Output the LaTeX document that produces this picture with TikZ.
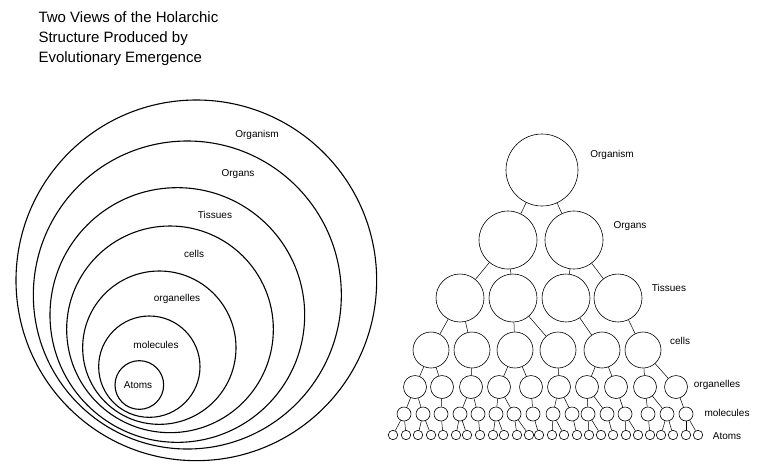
\documentclass[tikz,border=0pt]{standalone}
\usepackage{fontspec}
\setmainfont{Liberation Sans}
\begin{document}
\begin{tikzpicture}[x=1pt,y=-1pt,
  ring/.style={draw,line width=1.1pt},
  lbl/.style={font=\fontsize{10}{12}\selectfont},
  tn/.style={draw,circle,inner sep=0pt,line width=0.6pt},
  ln/.style={line width=0.5pt}]
\useasboundingbox (0,0) rectangle (765,469);
\node[anchor=north west,align=left,font=\fontsize{15}{20}\selectfont] (title) at (35,8) {Two Views of the Holarchic\\Structure Produced by\\Evolutionary Emergence};
% left nested circles
\foreach \n/\cx/\cy/\r in {c1/589/541/541, c2/562/585/462, c3/532/645/382, c4/510/688/310, c5/478/743/230, c6/448/800/152, c7/418/855/73}
  \draw[ring] (\cx/3,\cy/3+100) circle[radius=\r/3] coordinate (\n);
\node[lbl] (l1) at (257,135) {Organism};
\node[lbl] (l2) at (238,174) {Organs};
\node[lbl] (l3) at (215,215) {Tissues};
\node[lbl] (l4) at (194,254) {cells};
\node[lbl] (l5) at (177,299) {organelles};
\node[lbl] (l6) at (156,345) {molecules};
\node[lbl] (l7) at (138,385) {Atoms};
% tree
\node[tn,minimum size=72pt] (g) at (542,170) {};
\foreach \i/\x in {1/508,2/574} \node[tn,minimum size=58pt] (o\i) at (\x,240) {};
\foreach \i/\x in {1/460,2/513,3/566,4/618} \node[tn,minimum size=48pt] (t\i) at (\x,298) {};
\foreach \i/\x in {1/431,2/472,3/515,4/558,5/602,6/643} \node[tn,minimum size=36pt] (c\i) at (\x,350) {};
\foreach \i/\x in {1/415,2/442,3/471,4/499,5/531,6/559,7/587,8/616,9/645,10/676} \node[tn,minimum size=23pt] (p\i) at (\x,387) {};
\foreach \i/\x in {1/404,2/423,3/441,4/460,5/478,6/496,7/514,8/533,9/553,10/572,11/588,12/607,13/625,14/648,15/667,16/686} \node[tn,minimum size=14pt] (m\i) at (\x,414) {};
\foreach \i/\x in {1/393,2/406,3/418,4/431,5/443,6/456,7/467,8/480,9/493,10/504,11/517,12/529,13/539,14/552,15/564,16/577,17/589,18/601,19/613,20/626,21/638,22/650,23/661,24/673,25/686,26/698} \node[tn,minimum size=9.5pt] (a\i) at (\x,435) {};
\foreach \a/\b in {g/o1,g/o2,o1/t1,o1/t2,o2/t3,o2/t4,t1/c1,t1/c2,t2/c3,t2/c4,t3/c5,t4/c6,
  c1/p1,c1/p2,c2/p3,c3/p4,c3/p5,c4/p6,c5/p7,c5/p8,c6/p9,c6/p10,
  p1/m1,p1/m2,p2/m3,p3/m4,p3/m5,p4/m6,p4/m7,p5/m8,p6/m9,p6/m10,p7/m11,p7/m12,p8/m13,p9/m14,p9/m15,p10/m16,
  m1/a1,m1/a2,m2/a3,m2/a4,m3/a5,m4/a6,m4/a7,m5/a8,m6/a9,m6/a10,m7/a11,m7/a12,m8/a13,m9/a14,m9/a15,
  m10/a16,m11/a17,m11/a18,m12/a19,m13/a20,m13/a21,m14/a22,m15/a23,m15/a24,m16/a25,m16/a26}
  \draw[ln] (\a) -- (\b);
\node[lbl] (r1) at (612,155) {Organism};
\node[lbl] (r2) at (630,226) {Organs};
\node[lbl] (r3) at (669,288) {Tissues};
\node[lbl] (r4) at (680,341) {cells};
\node[lbl] (r5) at (717,385) {organelles};
\node[lbl] (r6) at (727,413) {molecules};
\node[lbl] (r7) at (727,436) {Atoms};
\end{tikzpicture}
\end{document}
